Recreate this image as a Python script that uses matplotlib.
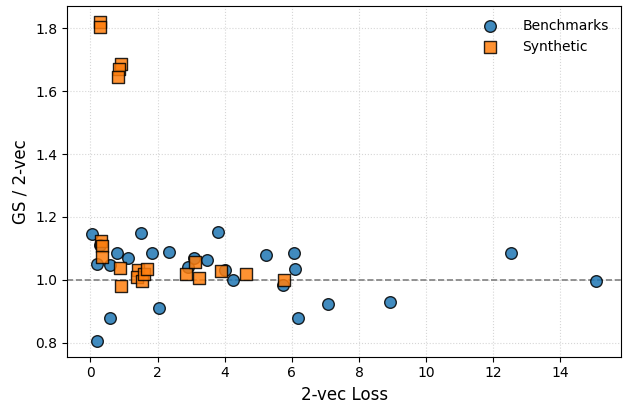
import numpy as np
import matplotlib
matplotlib.use("Agg")
import matplotlib.pyplot as plt

# Benchmarks (circles)
bench_loss = [0.06, 0.27, 0.20, 0.59, 0.20, 0.59, 0.80, 1.12, 1.51, 1.83,
              2.34, 2.04, 2.90, 3.08, 3.46, 3.79, 4.02, 4.26, 5.24, 5.74,
              6.07, 6.09, 6.18, 7.07, 8.93, 12.54, 15.06]
bench_ratio = [1.146, 1.111, 1.050, 1.048, 0.806, 0.879, 1.086, 1.070, 1.149, 1.086,
               1.089, 0.911, 1.040, 1.070, 1.063, 1.152, 1.032, 1.000, 1.079, 0.984,
               1.086, 1.035, 0.879, 0.924, 0.930, 1.086, 0.997]

# Synthetic (squares)
syn_loss = [0.27, 0.28, 0.92, 0.86, 0.83, 0.30, 0.33, 0.33, 0.89, 0.92,
            1.42, 1.39, 1.54, 1.60, 1.69, 2.84, 3.10, 3.22, 3.90, 4.64, 5.77]
syn_ratio = [1.820, 1.805, 1.686, 1.670, 1.644, 1.124, 1.106, 1.073, 1.038, 0.981,
             1.032, 1.010, 0.997, 1.020, 1.035, 1.019, 1.057, 1.006, 1.029, 1.018, 1.000]

fig, ax = plt.subplots(figsize=(6.23, 4.04), dpi=100)
fig.subplots_adjust(left=0.108, right=0.997, bottom=0.117, top=0.985)

ax.scatter(bench_loss, bench_ratio, s=70, marker="o", color="#1f77b4",
           edgecolor="black", linewidth=1.0, alpha=0.85, label="Benchmarks", zorder=3)
ax.scatter(syn_loss, syn_ratio, s=70, marker="s", color="#ff7f0e",
           edgecolor="black", linewidth=1.0, alpha=0.85, label="Synthetic", zorder=3)

ax.axhline(1.0, color="gray", linestyle="--", linewidth=1.2, zorder=2)
ax.grid(True, linestyle=":", color="#cccccc", linewidth=0.8, alpha=0.8)
ax.set_axisbelow(True)

ax.set_xlabel("2-vec Loss", fontsize=12)
ax.set_ylabel("GS / 2-vec", fontsize=12)
ax.set_xticks([0, 2, 4, 6, 8, 10, 12, 14])
ax.legend(loc="upper right", frameon=False, fontsize=10, handletextpad=1.3)

fig.savefig("out.png", dpi=100)
